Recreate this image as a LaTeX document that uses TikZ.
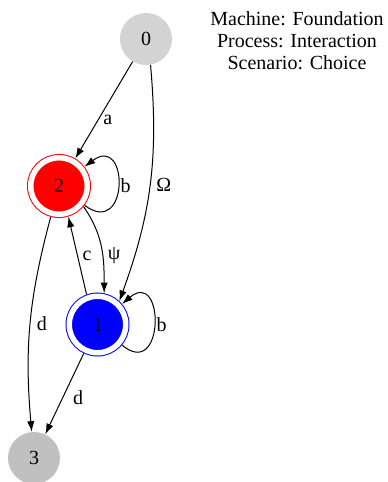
\documentclass[tikz,border=0pt]{standalone}
\usepackage{fontspec}
\setmainfont{Liberation Serif}
\usetikzlibrary{arrows.meta}
\definecolor{gvlight}{HTML}{D3D3D3}
\definecolor{gvgray}{HTML}{C0C0C0}
\begin{document}
\begin{tikzpicture} %choice machine
		[x=0.75pt,y=0.75pt,
		 state/.style={circle,inner sep=0pt,minimum size=39pt,font=\fontsize{15}{16.5}\selectfont},
		 idle/.style={state,fill=gvlight},
		 sink/.style={state,fill=gvgray},
		 acc/.style={state,minimum size=42.4pt,double=white,double distance=4.1pt,line width=0.75pt,outer sep=2.8pt},
		 trans/.style={->,>={Latex[length=8pt,width=5.5pt]},line width=0.75pt},
		 lbl/.style={font=\fontsize{15}{16.5}\selectfont,inner sep=1.5pt}]
	\useasboundingbox (0,0) rectangle (387,-482);

	%draw the states
	\node[idle] (n0) at (146,-39) {0};
	\node[acc,draw=red,fill=red] (n2) at (59,-186) {2};
	\node[acc,draw=blue,fill=blue] (n1) at (97.5,-324.5) {1};
	\node[sink] (n3) at (34,-458) {3};
	\node[lbl,align=center] (title) at (297,-41) {Machine: Foundation\\Process: Interaction\\Scenario: Choice};

	%draw the transitions
	\draw[trans] (n0) -- node[lbl,pos=0.6,right=2pt] (la) {a} (n2);
	\draw[trans] (n0.-80) to[out=-85,in=70] node[lbl,pos=0.5,right=3pt] (lomega) {Ω} (n1.47);
	\draw[trans] (n2) to[out=-37,in=37,distance=42pt] node[lbl,right] (lb2) {b} (n2);
	\draw[trans] (n2.-40) to[out=-55,in=90] node[lbl,pos=0.6,right=2pt] (lpsi) {ψ} (n1.78);
	\draw[trans] (n1.110) -- node[lbl,pos=0.5,right=2pt] (lc) {c} (n2.-73);
	\draw[trans] (n1) to[out=-40,in=40,distance=42pt] node[lbl,right] (lb1) {b} (n1);
	\draw[trans] (n2) to[out=-105,in=95] node[lbl,pos=0.5,right=3pt] (ld2) {d} (n3);
	\draw[trans] (n1) -- node[lbl,pos=0.55,right=6pt] (ld1) {d} (n3);
\end{tikzpicture}
\end{document}
